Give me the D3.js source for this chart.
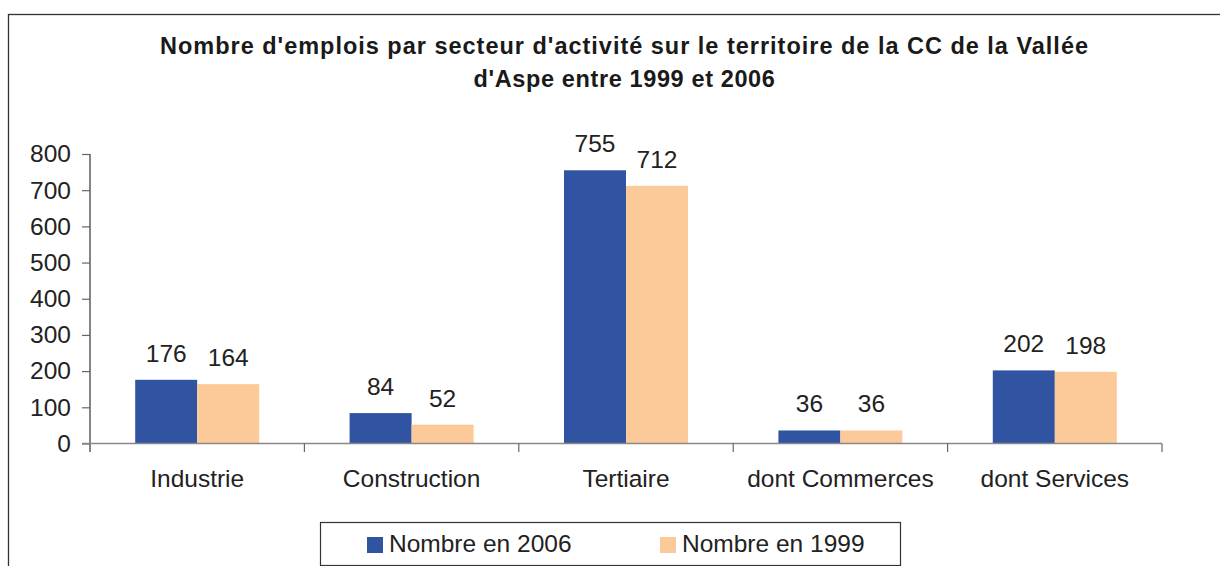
<!DOCTYPE html>
<html>
<head>
<meta charset="utf-8">
<script src="https://cdn.jsdelivr.net/npm/d3@7"></script>
<style>
  html, body { margin: 0; padding: 0; background: #fff; }
  svg { display: block; font-family: "Liberation Sans", Arial, sans-serif; }
</style>
</head>
<body>
<svg id="chart" width="1220" height="566"></svg>
<script>
// Emplois par secteur d'activité, CC de la Vallée d'Aspe
const categories = ["Industrie", "Construction", "Tertiaire", "dont Commerces", "dont Services"];
const seriesNames = ["Nombre en 2006", "Nombre en 1999"];
const values2006 = [176, 84, 755, 36, 202];
const values1999 = [164, 52, 712, 36, 198];
const yTicks = [0, 100, 200, 300, 400, 500, 600, 700, 800];
const titleLines = [
  "Nombre d'emplois par secteur d'activité sur le territoire de la CC de la Vallée",
  "d'Aspe entre 1999 et 2006"
];

const colors = ["#3053A2", "#FCCA98"];
const series = [values2006, values1999];
const FS = 24.5;

const svg = d3.select("#chart");

// outer frame
svg.append("rect")
  .attr("x", 8.5).attr("y", 14.5)
  .attr("width", 1230).attr("height", 600)
  .attr("fill", "#fff").attr("stroke", "#333").attr("stroke-width", 1.3);

// title, each line spread to its set width
const titleSpecs = [{ y: 54, w: 929 }, { y: 87, w: 302 }];
titleLines.forEach((line, i) => {
  const t = svg.append("text")
    .attr("x", 624.5).attr("y", titleSpecs[i].y)
    .attr("text-anchor", "middle")
    .attr("font-size", 23.5).attr("font-weight", "bold")
    .attr("fill", "#1a1a1a")
    .text(line);
  const w = t.node().getComputedTextLength();
  const ls = (titleSpecs[i].w - w) / line.length;
  t.attr("letter-spacing", ls.toFixed(3));
});

// scales
const y = d3.scaleLinear().domain([0, 800]).range([443.5, 154]);
const x0 = d3.scaleBand().domain(categories).range([90, 1162]).paddingInner(0).paddingOuter(0);
const half = x0.bandwidth() / 2;
const x1 = d3.scaleBand().domain(seriesNames).range([half - 62, half + 62]).padding(0);

// y axis
const yAxis = svg.append("g")
  .attr("transform", "translate(90,0)")
  .call(d3.axisLeft(y).tickValues(yTicks).tickSize(8).tickSizeOuter(0).tickPadding(11).tickFormat(d3.format("d")));
yAxis.select(".domain").attr("stroke", "#333").attr("stroke-width", 1.2)
  .attr("d", `M0,${y(800)}V452`);
yAxis.selectAll(".tick line").attr("stroke", "#666").attr("stroke-width", 1.2);
yAxis.selectAll(".tick text")
  .attr("font-size", FS).attr("fill", "#222")
  .attr("font-family", "'Liberation Sans', Arial, sans-serif");

// bars
const groups = svg.append("g").selectAll("g")
  .data(categories)
  .join("g")
  .attr("transform", d => `translate(${x0(d)},0)`);

seriesNames.forEach((name, si) => {
  groups.append("rect")
    .attr("x", x1(name))
    .attr("width", x1.bandwidth())
    .attr("y", (d, i) => y(series[si][i]))
    .attr("height", (d, i) => y(0) - y(series[si][i]))
    .attr("fill", colors[si]);
  groups.append("text")
    .attr("x", x1(name) + x1.bandwidth() / 2)
    .attr("y", (d, i) => y(series[si][i]) - 18)
    .attr("text-anchor", "middle")
    .attr("font-size", FS).attr("fill", "#222")
    .text((d, i) => series[si][i]);
});

// x axis baseline and category boundary ticks
svg.append("line")
  .attr("x1", 82).attr("x2", 1162)
  .attr("y1", y(0)).attr("y2", y(0))
  .attr("stroke", "#888").attr("stroke-width", 1.6);
const bounds = categories.map(c => x0(c)).concat([x0.range()[1]]);
svg.append("g").selectAll("line")
  .data(bounds.slice(1))
  .join("line")
  .attr("x1", d => d).attr("x2", d => d)
  .attr("y1", y(0)).attr("y2", y(0) + 8.5)
  .attr("stroke", "#666").attr("stroke-width", 1.2);

const xAxis = svg.append("g")
  .attr("transform", `translate(0,${y(0)})`)
  .call(d3.axisBottom(x0).tickSize(0).tickPadding(0));
xAxis.select(".domain").remove();
xAxis.selectAll(".tick text")
  .attr("y", 43.5).attr("dy", null)
  .attr("font-size", FS).attr("fill", "#222")
  .attr("font-family", "'Liberation Sans', Arial, sans-serif");

// legend
const legend = svg.append("g");
legend.append("rect")
  .attr("x", 320.5).attr("y", 522.5)
  .attr("width", 580).attr("height", 43)
  .attr("fill", "#fff").attr("stroke", "#333").attr("stroke-width", 1.2);
const legendX = [367, 660];
seriesNames.forEach((name, si) => {
  legend.append("rect")
    .attr("x", legendX[si]).attr("y", 537)
    .attr("width", 16).attr("height", 16)
    .attr("fill", colors[si]);
  legend.append("text")
    .attr("x", legendX[si] + 22).attr("y", 552)
    .attr("font-size", FS).attr("fill", "#222")
    .text(name);
});
</script>
</body>
</html>
